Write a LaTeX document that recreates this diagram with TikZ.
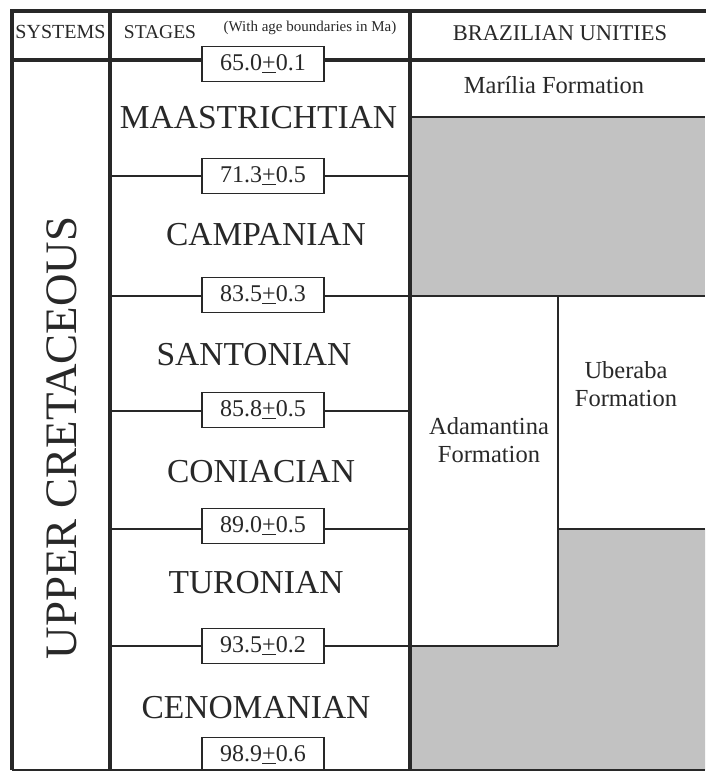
\documentclass[tikz,border=0pt]{standalone}
\usepackage{fontspec}
\setmainfont{Liberation Serif}
\definecolor{barren}{RGB}{194,194,194}
\definecolor{ink}{RGB}{40,40,40}

\begin{document}
\begin{tikzpicture}[x=1pt,y=-1pt,
		frame/.style={draw=ink,line width=4pt},
		limit/.style={draw=ink,line width=1.6pt},
		age/.style={draw=ink,line width=1.6pt,fill=white,text=ink,inner sep=0pt,
			minimum width=122pt,minimum height=35pt,font=\fontsize{24}{24}\selectfont},
		stage/.style={text=ink,inner sep=0pt,font=\fontsize{33.5}{33.5}\selectfont},
		head/.style={text=ink,inner sep=0pt,font=\fontsize{20}{20}\selectfont},
		unit/.style={text=ink,inner sep=0pt,align=center,font=\fontsize{24.5}{27.5}\selectfont}]

	\useasboundingbox (0,0) rectangle (705,771);

	% grey = no deposit
	\fill[barren] (409,117) rectangle (705,296);
	\fill[barren] (558,529) -- (705,529) -- (705,770) -- (409,770) -- (409,646) -- (558,646) -- cycle;

	% age boundaries
	\node[age] (b650) at (263,64)  {65.0\underline{+}0.1};
	\node[age] (b713) at (263,176) {71.3\underline{+}0.5};
	\node[age] (b835) at (263,295) {83.5\underline{+}0.3};
	\node[age] (b858) at (263,410) {85.8\underline{+}0.5};
	\node[age] (b890) at (263,526) {89.0\underline{+}0.5};
	\node[age] (b935) at (263,646) {93.5\underline{+}0.2};
	\node[age] (b989) at (263,755) {98.9\underline{+}0.6};

	\coordinate (l650) at (12,59.5);  \coordinate (r650) at (705,59.5);
	\coordinate (l713) at (110,176);  \coordinate (r713) at (409,176);
	\coordinate (l835) at (110,296);  \coordinate (r835) at (705,296);
	\coordinate (l858) at (110,411);  \coordinate (r858) at (409,411);
	\coordinate (l890) at (110,529);  \coordinate (r890) at (409,529);
	\coordinate (l935) at (110,646);  \coordinate (r935) at (558,646);

	\draw[frame] (l650) -- (l650 -| b650.west)  (b650.east |- r650) -- (r650);
	\draw[limit] (l713) -- (l713 -| b713.west)  (b713.east |- r713) -- (r713);
	\draw[limit] (l835) -- (l835 -| b835.west)  (b835.east |- r835) -- (r835);
	\draw[limit] (l858) -- (l858 -| b858.west)  (b858.east |- r858) -- (r858);
	\draw[limit] (l890) -- (l890 -| b890.west)  (b890.east |- r890) -- (r890);
	\draw[limit] (l935) -- (l935 -| b935.west)  (b935.east |- r935) -- (r935);

	% formation limits
	\draw[limit] (409,117) -- (705,117);
	\draw[limit] (558,296) -- (558,646);
	\draw[limit] (558,529) -- (705,529);

	% table frame
	\draw[frame] (12,770) -- (12,11) -- (708,11);
	\draw[frame] (110,11) -- (110,770);
	\draw[frame] (409.5,11) -- (409.5,770);
	\draw[limit] (12,770) -- (705,770);

	% headings
	\node[head] (systems) at (60.5,32) {SYSTEMS};
	\node[head,font=\fontsize{19.5}{19.5}\selectfont] (stages) at (160,32) {STAGES};
	\node[head,font=\fontsize{15}{15}\selectfont] (note) at (310,28) {(With age boundaries in Ma)};
	\node[head,font=\fontsize{22.5}{22.5}\selectfont] (unities) at (560,33) {BRAZILIAN UNITIES};

	\node[text=ink,rotate=90,font=\fontsize{45}{45}\selectfont] (system) at (61.5,438) {UPPER CRETACEOUS};

	% stages
	\node[stage] (maastrichtian) at (258.5,118) {MAASTRICHTIAN};
	\node[stage] (campanian) at (266,235) {CAMPANIAN};
	\node[stage] (santonian) at (254,355) {SANTONIAN};
	\node[stage] (coniacian) at (261,472) {CONIACIAN};
	\node[stage] (turonian) at (256,583) {TURONIAN};
	\node[stage] (cenomanian) at (256,708) {CENOMANIAN};

	% units
	\node[unit] (marilia) at (554,85) {Marília Formation};
	\node[unit] (adamantina) at (489,440) {Adamantina\\Formation};
	\node[unit] (uberaba) at (626,384) {Uberaba\\Formation};
\end{tikzpicture}
\end{document}
